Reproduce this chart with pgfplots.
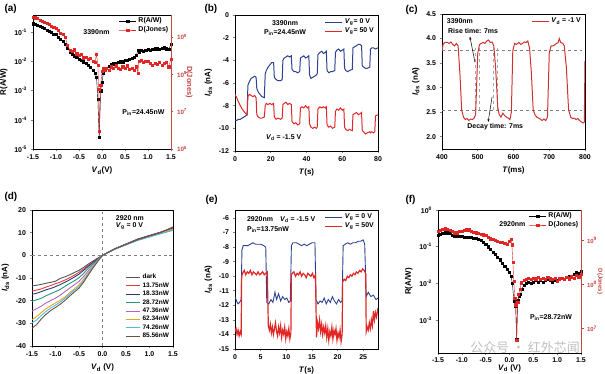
\documentclass[border=0pt]{standalone}
\usepackage{fontspec}
\setmainfont{Liberation Sans}
\newfontfamily\cjk{Noto Sans CJK SC}
\usepackage{pgfplots}
\pgfplotsset{compat=1.18}
\usetikzlibrary{arrows.meta}
\definecolor{myred}{RGB}{225,38,38}
\definecolor{myblue}{RGB}{45,65,145}
\definecolor{cred}{RGB}{205,50,50}
\definecolor{axred}{RGB}{200,70,70}
\definecolor{cdark}{RGB}{85,85,85}
\definecolor{cr}{RGB}{225,60,60}
\definecolor{cnavy}{RGB}{40,60,120}
\definecolor{cteal}{RGB}{40,150,120}
\definecolor{cpurp}{RGB}{180,100,200}
\definecolor{corng}{RGB}{230,165,30}
\definecolor{ccyan}{RGB}{70,190,230}
\definecolor{cbrown}{RGB}{110,80,70}
\tikzset{txt/.style={font=\bfseries\fontsize{7}{8}\selectfont}}
\pgfplotsset{
  panel/.style={
    scale only axis, anchor=south west,
    tick align=outside, major tick length=2.5pt,
    axis line style={line width=0.7pt},
    tick style={line width=0.6pt},
    tick label style={font=\bfseries\fontsize{7}{8}\selectfont},
    label style={font=\bfseries\fontsize{8}{9}\selectfont},
    /pgf/number format/assume math mode=true,
    legend style={draw=none, fill=none, font=\bfseries\fontsize{7}{8}\selectfont, inner sep=0.5pt, row sep=-1.5pt},
    legend cell align=left,
  },
  Rmark/.style={black, mark=square*, mark size=1.1pt, line width=0.4pt},
  Dmark/.style={myred, mark=square*, mark size=1.1pt, line width=0.4pt},
}
\begin{document}
\begin{tikzpicture}[x=1bp,y=1bp]
\useasboundingbox (0,0) rectangle (605,373);
\node[anchor=north west, font=\bfseries\fontsize{10}{12}\selectfont] at (1,372) {(a)};
\node[anchor=north west, font=\bfseries\fontsize{10}{12}\selectfont] at (201,372) {(b)};
\node[anchor=north west, font=\bfseries\fontsize{10}{12}\selectfont] at (402,371) {(c)};
\node[anchor=north west, font=\bfseries\fontsize{10}{12}\selectfont] at (1,184) {(d)};
\node[anchor=north west, font=\bfseries\fontsize{10}{12}\selectfont] at (202,181) {(e)};
\node[anchor=north west, font=\bfseries\fontsize{10}{12}\selectfont] at (402,181) {(f)};

% ---------------- (a) ----------------
\begin{axis}[panel, at={(33bp,224bp)}, width=138bp, height=134bp,
  xmin=-1.5, xmax=1.5, xtick={-1.5,-1,-0.5,0,0.5,1,1.5},
  xticklabels={-1.5,-1.0,-0.5,0.0,0.5,1.0,1.5},
  ymode=log, ymin=1e-5, ymax=0.4, ytick={1e-5,1e-4,1e-3,1e-2,1e-1},
  yticklabels={10\textsuperscript{-5},10\textsuperscript{-4},10\textsuperscript{-3},10\textsuperscript{-2},10\textsuperscript{-1}},
  yminorticks=false, xtick pos=left, ytick pos=left,
  xlabel={\textit{V}\textsubscript{d}(V)}, ylabel={R(A/W)},
  legend style={at={(1,1)}, anchor=north east}]
\addlegendimage{Rmark}\addlegendentry{R(A/W)}
\addlegendimage{Dmark}\addlegendentry{D(Jones)}
\addplot[Rmark, forget plot] coordinates {
(-1.50,0.20)(-1.45,0.19)(-1.40,0.18)(-1.35,0.17)(-1.30,0.15)(-1.25,0.14)(-1.20,0.12)(-1.15,0.11)(-1.10,0.10)(-1.05,0.09)(-1.00,0.085)(-0.95,0.07)(-0.90,0.06)(-0.85,0.05)(-0.80,0.04)(-0.75,0.03)(-0.70,0.022)(-0.65,0.018)(-0.60,0.016)(-0.55,0.014)(-0.50,0.012)(-0.45,0.011)(-0.40,0.010)(-0.35,0.009)(-0.30,0.0075)(-0.25,0.0065)(-0.20,0.005)(-0.15,0.004)(-0.12,0.003)(-0.09,0.0005)(-0.06,0.000025)(-0.03,0.001)(0.00,0.002)(0.03,0.004)(0.06,0.005)(0.10,0.006)(0.15,0.007)(0.20,0.008)(0.25,0.0085)(0.30,0.009)(0.35,0.0095)(0.40,0.010)(0.45,0.010)(0.50,0.011)(0.55,0.011)(0.60,0.012)(0.65,0.013)(0.70,0.014)(0.75,0.017)(0.78,0.025)(0.80,0.022)(0.85,0.024)(0.90,0.023)(0.95,0.025)(1.00,0.026)(1.05,0.025)(1.10,0.027)(1.15,0.028)(1.20,0.028)(1.25,0.027)(1.30,0.029)(1.35,0.030)(1.40,0.028)(1.45,0.026)(1.50,0.040)};
\node[txt] at (rel axis cs:0.46,0.87) {3390nm};
\node[txt] at (rel axis cs:0.8,0.27) {P\textsubscript{in}=24.45nW};
\end{axis}
\begin{axis}[panel, at={(33bp,224bp)}, width=138bp, height=134bp, clip=false,
  xmin=-1.5, xmax=1.5, axis x line=none, axis y line*=right,
  ymode=log, ymin=1e6, ymax=3.9e9, ytick={1e6,1e7,1e8,1e9},
  yticklabels={10\textsuperscript{6},10\textsuperscript{7},10\textsuperscript{8},10\textsuperscript{9}},
  yminorticks=false,
  yticklabel style={axred, font=\bfseries\fontsize{6.3}{7}\selectfont},
  y axis line style={axred}, ytick style={axred}]
\addplot[Dmark] coordinates {
(-1.50,3.4e9)(-1.45,3.3e9)(-1.40,3.2e9)(-1.35,2.9e9)(-1.30,2.6e9)(-1.25,2.5e9)(-1.20,2.4e9)(-1.15,2.2e9)(-1.10,2.0e9)(-1.05,1.8e9)(-1.00,1.7e9)(-0.95,1.5e9)(-0.90,1.3e9)(-0.85,1.2e9)(-0.80,1.0e9)(-0.75,6e8)(-0.70,4.5e8)(-0.65,4.2e8)(-0.60,4.6e8)(-0.55,3.6e8)(-0.50,3.2e8)(-0.45,3.4e8)(-0.40,2.8e8)(-0.35,2.9e8)(-0.30,2.5e8)(-0.25,2.7e8)(-0.20,2.3e8)(-0.15,2.1e8)(-0.12,3.5e8)(-0.09,1.8e8)(-0.07,4e7)(-0.06,3e6)(-0.03,5e7)(0.00,1.2e8)(0.03,1.5e8)(0.06,1.3e8)(0.10,1.5e8)(0.15,1.3e8)(0.20,1.6e8)(0.25,1.5e8)(0.30,1.7e8)(0.35,1.5e8)(0.40,1.4e8)(0.45,1.6e8)(0.50,1.5e8)(0.55,1.7e8)(0.60,1.4e8)(0.65,1.5e8)(0.70,1.3e8)(0.75,1.6e8)(0.78,1.1e8)(0.80,2.2e8)(0.85,2.4e8)(0.90,2.1e8)(0.95,2.3e8)(1.00,2.2e8)(1.05,2.0e8)(1.10,1.8e8)(1.15,2.0e8)(1.20,1.9e8)(1.25,2.1e8)(1.30,1.8e8)(1.35,2.0e8)(1.40,2.1e8)(1.45,1.6e8)(1.50,2.6e8)};
\node[rotate=-90, axred, font=\bfseries\fontsize{7.5}{8}\selectfont] at ([xshift=18bp]rel axis cs:1,0.5) {D(Jones)};
\end{axis}

% ---------------- (b) ----------------
\begin{axis}[panel, at={(235bp,222bp)}, width=143bp, height=136bp,
  xmin=0, xmax=80, xtick={0,20,40,60,80}, ymin=-12, ymax=0, ytick={-12,-10,-8,-6,-4,-2,0},
  xtick pos=left, ytick pos=left,
  xlabel={\textit{T}(s)}, ylabel={\textit{I}\textsubscript{ds} (nA)},
  legend style={at={(0.99,0.99)}, anchor=north east}]
\addplot[myblue, line width=1pt] coordinates {
(0,-9.3)(1,-9.3)(2,-9.2)(3,-9.2)(4,-9.1)(5,-9.0)(6,-8.9)(6.8,-8.8)(7.2,-6.2)(8,-5.9)(9,-5.6)(10,-5.5)(11,-5.4)(11.8,-5.5)(12.2,-6.5)(13,-6.8)(14,-7.0)(15,-7.2)(16.4,-7.3)(16.9,-5.2)(17.5,-4.9)(18.5,-4.6)(19.5,-4.4)(20.5,-4.2)(21.6,-4.2)(22.0,-5.5)(23,-5.7)(24,-5.8)(25.5,-5.8)(26.4,-5.7)(26.8,-4.0)(27.5,-3.8)(28.5,-3.7)(29.5,-3.6)(30.5,-3.7)(31.5,-3.6)(31.9,-4.8)(33,-5.0)(34,-5.0)(35,-5.1)(36.2,-5.0)(36.6,-3.8)(37.5,-3.7)(38.5,-3.6)(39.5,-3.8)(40.5,-3.7)(41.3,-3.6)(41.7,-5.3)(42.5,-5.6)(43.5,-5.5)(44.5,-5.4)(45.5,-5.3)(46.0,-5.2)(46.4,-3.5)(47.5,-3.3)(48.5,-3.2)(49.5,-3.4)(50.5,-3.3)(51.1,-3.2)(51.5,-4.9)(52.5,-5.1)(53.5,-5.0)(54.5,-5.0)(55.8,-4.9)(56.2,-3.3)(57,-3.1)(58,-3.0)(59,-3.2)(60,-3.1)(60.9,-3.0)(61.3,-4.7)(62,-4.9)(63,-5.0)(64,-4.9)(65.6,-4.8)(66,-2.9)(67,-2.8)(68,-2.7)(69,-2.6)(70,-2.6)(70.8,-2.7)(71.2,-4.5)(72,-4.6)(73,-4.7)(74,-4.7)(75.4,-4.6)(75.8,-3.0)(76.5,-2.9)(77.5,-2.9)(78.5,-3.0)(80,-2.9)};
\addlegendentry{\textit{V}\textsubscript{g}= 0 V}
\addplot[myred, line width=1pt] coordinates {
(0,-7.0)(1,-7.3)(2,-7.7)(3,-8.0)(4,-8.3)(5,-8.5)(6,-8.7)(6.8,-8.8)(7.2,-7.2)(8,-7.0)(9,-7.1)(10,-7.2)(11,-7.1)(11.8,-7.3)(12.2,-8.8)(13,-9.0)(14,-9.1)(15,-9.1)(16.4,-9.0)(16.9,-8.0)(17.5,-7.8)(18.5,-7.9)(19.5,-7.8)(20.5,-7.9)(21.6,-7.8)(22.0,-9.0)(23,-9.2)(24,-9.1)(25.5,-9.2)(26.4,-9.1)(26.8,-7.9)(27.5,-7.8)(28.5,-7.7)(29.5,-7.9)(30.5,-7.8)(31.5,-7.9)(31.9,-9.4)(33,-9.6)(34,-9.5)(35,-9.7)(36.2,-9.6)(36.6,-8.2)(37.5,-8.1)(38.5,-8.2)(39.5,-8.0)(40.5,-8.2)(41.3,-8.1)(41.7,-9.6)(42.5,-9.9)(43.5,-10.0)(44.5,-9.9)(45.5,-10.0)(46.0,-9.9)(46.4,-8.3)(47.5,-8.1)(48.5,-8.2)(49.5,-8.1)(50.5,-8.2)(51.1,-8.1)(51.5,-9.7)(52.5,-9.9)(53.5,-9.8)(54.5,-10.0)(55.8,-9.9)(56.2,-8.5)(57,-8.3)(58,-8.4)(59,-8.2)(60,-8.4)(60.9,-8.3)(61.3,-9.9)(62,-10.1)(63,-10.2)(64,-10.1)(65.6,-10.2)(66,-8.8)(67,-8.7)(68,-8.6)(69,-8.8)(70,-8.7)(70.8,-8.6)(71.2,-10.2)(72,-10.3)(73,-10.5)(74,-10.4)(75.4,-10.3)(75.8,-10.4)(76.5,-10.3)(77.5,-10.4)(78.2,-10.3)(78.6,-8.9)(80,-8.8)};
\addlegendentry{\textit{V}\textsubscript{g}= 50 V}
\node[txt] at (rel axis cs:0.35,0.94) {3390nm};
\node[txt] at (rel axis cs:0.35,0.87) {P\textsubscript{in}=24.45nW};
\node[txt] at (rel axis cs:0.34,0.10) {\textit{V}\textsubscript{d} = -1.5 V};
\end{axis}

% ---------------- (c) ----------------
\begin{axis}[panel, at={(442bp,224bp)}, width=143bp, height=135bp,
  xmin=400, xmax=800, xtick={400,500,600,700,800}, ymin=1.75, ymax=4.5,
  ytick={2,2.5,3,3.5,4,4.5}, yticklabels={2.0,2.5,3.0,3.5,4.0,4.5},
  xtick pos=left, ytick pos=left,
  xlabel={\textit{T}(ms)}, ylabel={\textit{I}\textsubscript{ds} (nA)},
  legend style={at={(0.99,0.99)}, anchor=north east}]
\draw[gray, dashed, line width=0.6pt] (axis cs:400,3.77) -- (axis cs:800,3.77);
\draw[gray, dashed, line width=0.6pt] (axis cs:400,2.54) -- (axis cs:800,2.54);
\draw[gray!70, dashed, line width=0.5pt] (axis cs:493,2.54) -- (axis cs:493,3.8);
\draw[gray!70, dashed, line width=0.5pt] (axis cs:505,2.54) -- (axis cs:505,3.8);
\draw[gray!70, dashed, line width=0.5pt] (axis cs:543,2.54) -- (axis cs:543,3.8);
\draw[gray!70, dashed, line width=0.5pt] (axis cs:555,2.54) -- (axis cs:555,3.8);
\addplot[cred, line width=1pt] coordinates {
(400,3.75)(403,3.88)(408,3.92)(415,3.92)(420,3.90)(425,3.93)(430,3.88)(435,3.85)(440,3.90)(445,3.85)(450,3.30)(455,2.55)(460,2.40)(465,2.35)(470,2.37)(475,2.33)(480,2.36)(485,2.35)(490,2.38)(494,2.45)(500,3.70)(505,3.88)(510,3.90)(515,3.92)(520,3.90)(525,3.95)(530,3.97)(535,3.92)(540,3.93)(545,3.85)(550,3.40)(556,2.60)(560,2.45)(565,2.40)(570,2.48)(575,2.43)(580,2.40)(585,2.38)(590,2.35)(594,2.50)(598,3.75)(603,3.90)(608,3.88)(615,3.92)(620,3.88)(625,3.90)(630,3.93)(635,3.92)(640,3.95)(645,3.80)(650,3.30)(655,2.55)(660,2.45)(665,2.40)(670,2.38)(675,2.36)(680,2.33)(685,2.36)(690,2.33)(695,2.40)(700,3.70)(705,3.85)(710,3.85)(715,3.87)(720,3.90)(725,3.92)(728,4.00)(732,3.92)(738,3.90)(742,3.85)(748,3.40)(754,2.55)(760,2.40)(765,2.37)(770,2.38)(775,2.35)(780,2.37)(785,2.33)(790,2.30)(795,2.28)(798,2.30)(800,3.55)};
\addlegendentry{\textit{V}\textsubscript{d} = -1 V}
\node[txt, anchor=north west] at (rel axis cs:0.01,0.995) {3390nm};
\node[txt] at (axis cs:487,4.15) {Rise time: 7ms};
\node[txt] at (axis cs:549,2.2) {Decay time: 7ms};
\draw[-{Stealth[length=3pt]}, line width=0.5pt] (axis cs:492,3.52) -- (axis cs:478,4.04);
\draw[-{Stealth[length=3pt]}, line width=0.5pt] (axis cs:540,2.81) -- (axis cs:529,2.3);
\end{axis}

% ---------------- (d) ----------------
\begin{axis}[panel, at={(32bp,27bp)}, width=141bp, height=136bp,
  xmin=-1.5, xmax=1.5, xtick={-1.5,-1,-0.5,0,0.5,1,1.5},
  xticklabels={-1.5,-1.0,-0.5,0.0,0.5,1.0,1.5},
  ymin=-40, ymax=20, ytick={-40,-30,-20,-10,0,10,20},
  xtick pos=left, ytick pos=left,
  xlabel={\textit{V}\textsubscript{d} (V)}, ylabel={\textit{I}\textsubscript{ds} (nA)},
  legend style={at={(0.99,0.03)}, anchor=south east, font=\bfseries\fontsize{6.5}{7}\selectfont, row sep=-1.6pt},
  legend image code/.code={\draw[#1, line width=1pt] (0cm,0cm) -- (0.5cm,0cm);},
  every axis plot/.append style={line width=0.9pt}]
\draw[gray, dashed, line width=0.6pt] (axis cs:-1.5,0) -- (axis cs:1.5,0);
\draw[gray, dashed, line width=0.6pt] (axis cs:0,-40) -- (axis cs:0,20);
\addplot[cdark] coordinates {(-1.5,-13.5)(-1.4,-13.2)(-1.3,-12.8)(-1.2,-12.3)(-1.1,-11.9)(-1.0,-11.4)(-0.9,-10.2)(-0.8,-9.5)(-0.7,-8.6)(-0.6,-7.6)(-0.5,-6.6)(-0.4,-5.3)(-0.3,-3.8)(-0.2,-2.5)(-0.1,-1.2)(0,0)(0.25,2.8)(0.5,5.0)(0.75,7.2)(1.0,8.8)(1.25,10.3)(1.5,12.0)};
\addlegendentry{dark}
\addplot[cr] coordinates {(-1.5,-15.8)(-1.4,-15.3)(-1.3,-14.8)(-1.2,-14.0)(-1.1,-13.3)(-1.0,-12.5)(-0.9,-11.8)(-0.8,-10.9)(-0.7,-9.9)(-0.6,-8.8)(-0.5,-7.5)(-0.4,-6.0)(-0.3,-4.4)(-0.2,-2.9)(-0.1,-1.4)(0,0)(0.25,2.8)(0.5,5.0)(0.75,7.1)(1.0,8.7)(1.25,10.3)(1.5,12.4)};
\addlegendentry{13.75nW}
\addplot[cnavy] coordinates {(-1.5,-17.2)(-1.4,-16.7)(-1.3,-16.0)(-1.2,-15.2)(-1.1,-14.6)(-1.0,-13.8)(-0.9,-12.9)(-0.8,-11.9)(-0.7,-10.8)(-0.6,-9.6)(-0.5,-8.3)(-0.4,-6.6)(-0.3,-4.8)(-0.2,-3.1)(-0.1,-1.5)(0,0)(0.25,2.7)(0.5,4.9)(0.75,7.0)(1.0,8.6)(1.25,10.2)(1.5,12.2)};
\addlegendentry{18.33nW}
\addplot[cteal] coordinates {(-1.5,-20.3)(-1.4,-19.6)(-1.3,-18.9)(-1.2,-17.8)(-1.1,-16.9)(-1.0,-16.0)(-0.9,-15.0)(-0.8,-13.7)(-0.7,-12.4)(-0.6,-11.2)(-0.5,-9.9)(-0.4,-7.9)(-0.3,-5.7)(-0.2,-3.7)(-0.1,-1.8)(0,0)(0.25,2.7)(0.5,4.8)(0.75,6.8)(1.0,8.3)(1.25,9.8)(1.5,11.3)};
\addlegendentry{28.72nW}
\addplot[cpurp] coordinates {(-1.5,-24.6)(-1.4,-23.5)(-1.3,-22.4)(-1.2,-21.0)(-1.1,-19.9)(-1.0,-18.9)(-0.9,-17.6)(-0.8,-16.0)(-0.7,-14.5)(-0.6,-13.0)(-0.5,-11.5)(-0.4,-9.3)(-0.3,-6.8)(-0.2,-4.4)(-0.1,-2.1)(0,0)(0.25,2.6)(0.5,4.8)(0.75,6.8)(1.0,8.4)(1.25,10.0)(1.5,11.6)};
\addlegendentry{47.36nW}
\addplot[corng] coordinates {(-1.5,-28.4)(-1.4,-27.0)(-1.3,-25.2)(-1.2,-23.5)(-1.1,-22.2)(-1.0,-21.0)(-0.9,-19.8)(-0.8,-18.4)(-0.7,-16.5)(-0.6,-14.8)(-0.5,-13.0)(-0.4,-10.5)(-0.3,-7.6)(-0.2,-4.9)(-0.1,-2.4)(0,0)(0.25,2.6)(0.5,4.7)(0.75,6.7)(1.0,8.3)(1.25,9.9)(1.5,11.5)};
\addlegendentry{62.34nW}
\addplot[ccyan] coordinates {(-1.5,-29.8)(-1.4,-28.5)(-1.3,-26.5)(-1.2,-24.7)(-1.1,-23.2)(-1.0,-22.0)(-0.9,-20.6)(-0.8,-19.0)(-0.7,-17.2)(-0.6,-15.4)(-0.5,-13.8)(-0.4,-11.2)(-0.3,-8.1)(-0.2,-5.2)(-0.1,-2.5)(0,0)(0.25,2.6)(0.5,4.6)(0.75,6.6)(1.0,8.1)(1.25,9.6)(1.5,11.0)};
\addlegendentry{74.26nW}
\addplot[cbrown] coordinates {(-1.5,-32.2)(-1.4,-30.5)(-1.3,-28.0)(-1.2,-26.0)(-1.1,-24.3)(-1.0,-23.0)(-0.9,-21.6)(-0.8,-19.9)(-0.7,-18.0)(-0.6,-16.2)(-0.5,-14.5)(-0.4,-11.8)(-0.3,-8.6)(-0.2,-5.5)(-0.1,-2.7)(0,0)(0.25,2.7)(0.5,4.8)(0.75,6.9)(1.0,8.5)(1.25,10.1)(1.5,12.5)};
\addlegendentry{85.56nW}
\node[txt, anchor=west] at (rel axis cs:0.57,0.94) {2920 nm};
\node[txt, anchor=west] at (rel axis cs:0.57,0.88) {\textit{V}\textsubscript{g} = 0 V};
\end{axis}

% ---------------- (e) ----------------
\begin{axis}[panel, at={(235bp,24bp)}, width=143bp, height=139bp,
  xmin=0, xmax=27.9, xtick={0,5,10,15,20,25}, ymin=-15, ymax=-5.45,
  ytick={-15,-14,-13,-12,-11,-10,-9,-8,-7,-6},
  xtick pos=left, ytick pos=left,
  xlabel={\textit{T}(s)}, ylabel={\textit{I}\textsubscript{ds} (nA)},
  legend style={at={(0.99,0.99)}, anchor=north east}]
\addplot[myblue, line width=0.9pt] coordinates {
(0,-11.4)(0.3,-11.7)(0.6,-11.9)(0.9,-11.8)(1.2,-11.6)(1.35,-8.2)(1.6,-7.9)(2.5,-7.9)(3.0,-7.8)(3.5,-7.7)(4.0,-7.8)(4.5,-7.8)(5.0,-7.8)(5.6,-7.9)(6.0,-8.0)(6.2,-11.8)(6.6,-11.9)(7.0,-11.6)(7.4,-11.8)(7.8,-11.1)(8.1,-11.6)(8.5,-11.2)(8.9,-11.7)(9.3,-11.4)(9.7,-11.6)(10.1,-11.5)(10.5,-11.8)(10.8,-11.7)(11.0,-7.9)(11.3,-7.7)(12,-7.7)(12.5,-7.8)(13.0,-7.9)(13.5,-7.8)(14,-7.9)(14.5,-7.8)(15,-7.7)(15.6,-7.7)(15.8,-11.6)(16.2,-11.9)(16.6,-11.7)(17.0,-11.8)(17.4,-11.5)(17.8,-11.9)(18.2,-11.6)(18.6,-11.8)(19.0,-11.4)(19.4,-11.7)(19.8,-11.9)(20.2,-11.6)(20.6,-11.8)(20.9,-11.7)(21.1,-7.9)(21.5,-7.8)(22,-7.7)(22.5,-7.8)(23,-7.7)(23.5,-7.7)(24,-7.6)(24.5,-7.6)(25.0,-7.5)(25.3,-7.8)(25.6,-11.4)(26.0,-11.1)(26.5,-11.4)(27.0,-11.3)(27.5,-11.6)(27.9,-11.5)};
\addlegendentry{\textit{V}\textsubscript{g} = 0 V}
\addplot[myred, line width=1.2pt] coordinates {
(0,-13.8)(0.2,-13.6)(0.4,-14.0)(0.6,-13.7)(0.8,-14.1)(1.0,-13.8)(1.2,-14.0)(1.3,-10.0)(1.5,-9.8)(1.8,-9.6)(2.1,-9.9)(2.4,-9.7)(2.7,-9.8)(3.0,-9.6)(3.3,-9.9)(3.6,-9.7)(3.9,-9.8)(4.2,-9.9)(4.5,-9.7)(4.8,-9.9)(5.1,-9.8)(5.4,-9.7)(5.7,-9.9)(6.0,-9.8)(6.3,-9.7)(6.5,-13.4)(6.7,-13.7)(6.9,-13.3)(7.1,-13.9)(7.3,-13.5)(7.5,-14.0)(7.7,-13.6)(7.9,-13.2)(8.1,-13.8)(8.3,-14.1)(8.5,-13.5)(8.7,-13.9)(8.9,-13.4)(9.1,-14.2)(9.3,-13.7)(9.5,-14.0)(9.7,-13.5)(9.9,-14.3)(10.1,-13.8)(10.3,-14.1)(10.5,-13.6)(10.7,-14.3)(10.9,-13.9)(11.0,-9.9)(11.2,-9.8)(11.5,-9.7)(11.8,-10.0)(12.1,-9.8)(12.4,-9.9)(12.7,-9.7)(13.0,-10.0)(13.3,-9.8)(13.6,-9.9)(13.9,-10.1)(14.2,-9.8)(14.5,-9.9)(14.8,-10.0)(15.1,-9.8)(15.4,-10.1)(15.7,-9.9)(15.9,-14.2)(16.1,-13.2)(16.3,-13.6)(16.5,-13.0)(16.7,-13.8)(16.9,-13.3)(17.1,-14.0)(17.3,-13.5)(17.5,-13.9)(17.7,-13.4)(17.9,-14.2)(18.1,-13.6)(18.3,-14.4)(18.5,-13.8)(18.7,-14.1)(18.9,-13.5)(19.1,-14.3)(19.3,-13.7)(19.5,-14.0)(19.7,-13.6)(19.9,-14.4)(20.1,-13.9)(20.3,-14.2)(20.5,-13.7)(20.7,-14.5)(20.9,-14.0)(21.0,-10.4)(21.3,-10.2)(21.6,-10.3)(21.9,-10.0)(22.2,-10.1)(22.5,-9.9)(22.8,-10.0)(23.1,-9.8)(23.4,-9.9)(23.7,-9.7)(24.0,-9.8)(24.3,-9.6)(24.6,-9.7)(24.9,-9.5)(25.2,-9.6)(25.5,-9.8)(25.6,-13.8)(25.8,-13.5)(26.0,-13.7)(26.2,-13.2)(26.4,-13.6)(26.6,-13.0)(26.8,-13.4)(27.0,-12.4)(27.2,-13.0)(27.4,-12.5)(27.6,-12.8)(27.9,-12.2)};
\addlegendentry{\textit{V}\textsubscript{g} = 50V}
\node[txt, anchor=west] at (rel axis cs:0.06,0.93) {2920nm\quad\textit{V}\textsubscript{d} = -1.5 V};
\node[txt, anchor=west] at (rel axis cs:0.06,0.86) {P\textsubscript{in}=13.75nW};
\end{axis}

% ---------------- (f) ----------------
\begin{axis}[panel, at={(438bp,20bp)}, width=143bp, height=143bp,
  xmin=-1.5, xmax=1.5, xtick={-1.5,-1,-0.5,0,0.5,1,1.5},
  xticklabels={-1.5,-1.0,-0.5,0.0,0.5,1.0,1.5},
  ymode=log, ymin=1.26e-4, ymax=1, ytick={1e-3,1e-2,1e-1,1},
  yticklabels={10\textsuperscript{-3},10\textsuperscript{-2},10\textsuperscript{-1},10\textsuperscript{0}},
  yminorticks=false, xtick pos=left, ytick pos=left,
  xticklabel style={yshift=1.5pt},
  xlabel style={yshift=5pt},
  xlabel={\textit{V}\textsubscript{d} (V)}, ylabel={R(A/W)},
  legend style={at={(1,1)}, anchor=north east}]
\addlegendimage{Rmark}\addlegendentry{R(A/W)}
\addlegendimage{Dmark}\addlegendentry{D(Jones)}
\addplot[Rmark, forget plot] coordinates {
(-1.50,0.21)(-1.45,0.22)(-1.40,0.23)(-1.35,0.24)(-1.30,0.24)(-1.25,0.23)(-1.20,0.21)(-1.15,0.20)(-1.10,0.20)(-1.05,0.19)(-1.00,0.19)(-0.95,0.18)(-0.90,0.18)(-0.85,0.18)(-0.80,0.18)(-0.75,0.17)(-0.70,0.17)(-0.65,0.16)(-0.60,0.15)(-0.55,0.13)(-0.50,0.115)(-0.45,0.10)(-0.40,0.085)(-0.35,0.072)(-0.30,0.062)(-0.25,0.052)(-0.20,0.044)(-0.15,0.035)(-0.10,0.029)(-0.05,0.024)(0.00,0.020)(0.03,0.016)(0.06,0.010)(0.09,0.0035)(0.11,0.0032)(0.13,0.0024)(0.15,0.0003)(0.17,0.0035)(0.20,0.0045)(0.23,0.005)(0.26,0.007)(0.30,0.009)(0.35,0.010)(0.40,0.011)(0.45,0.010)(0.50,0.011)(0.55,0.012)(0.60,0.011)(0.65,0.012)(0.70,0.011)(0.75,0.012)(0.80,0.013)(0.85,0.012)(0.90,0.011)(0.95,0.012)(1.00,0.012)(1.05,0.013)(1.10,0.014)(1.15,0.013)(1.20,0.015)(1.25,0.016)(1.30,0.015)(1.35,0.018)(1.40,0.020)(1.45,0.019)(1.50,0.021)};
\node[txt] at (rel axis cs:0.52,0.90) {2920nm};
\node[txt] at (rel axis cs:0.79,0.25) {P\textsubscript{in}=28.72nW};
\end{axis}
\begin{axis}[panel, at={(438bp,20bp)}, width=143bp, height=143bp, clip=false,
  xmin=-1.5, xmax=1.5, axis x line=none, axis y line*=right,
  ymode=log, ymin=2.8e6, ymax=4.9e9, ytick={1e7,1e8,1e9},
  yticklabels={10\textsuperscript{7},10\textsuperscript{8},10\textsuperscript{9}},
  yminorticks=false,
  yticklabel style={axred, font=\bfseries\fontsize{6}{7}\selectfont},
  y axis line style={axred}, ytick style={axred}]
\addplot[Dmark] coordinates {
(-1.50,1.6e9)(-1.45,1.7e9)(-1.40,1.8e9)(-1.35,1.85e9)(-1.30,1.8e9)(-1.25,1.7e9)(-1.20,1.6e9)(-1.15,1.5e9)(-1.10,1.5e9)(-1.05,1.6e9)(-1.00,1.65e9)(-0.95,1.7e9)(-0.90,1.75e9)(-0.85,1.75e9)(-0.80,1.65e9)(-0.75,1.55e9)(-0.70,1.5e9)(-0.65,1.45e9)(-0.60,1.4e9)(-0.55,1.35e9)(-0.50,1.3e9)(-0.45,1.2e9)(-0.40,1.1e9)(-0.35,1.05e9)(-0.30,1.0e9)(-0.25,9.5e8)(-0.20,9.2e8)(-0.15,9e8)(-0.10,8.5e8)(-0.05,8.2e8)(0.00,9.5e8)(0.03,1.05e9)(0.05,8e8)(0.07,3.2e8)(0.09,1.2e8)(0.11,5e7)(0.13,3.5e7)(0.15,5.5e6)(0.17,4e7)(0.19,6e7)(0.22,8e7)(0.25,1.1e8)(0.30,1.25e8)(0.35,1.3e8)(0.40,1.4e8)(0.45,1.3e8)(0.50,1.4e8)(0.55,1.35e8)(0.60,1.45e8)(0.65,1.3e8)(0.70,1.4e8)(0.75,1.3e8)(0.80,1.45e8)(0.85,1.35e8)(0.90,1.3e8)(0.95,1.4e8)(1.00,1.2e8)(1.05,1.35e8)(1.10,1.4e8)(1.15,1.3e8)(1.20,1.45e8)(1.25,1.35e8)(1.30,1.5e8)(1.35,1.4e8)(1.40,1.6e8)(1.45,1.5e8)(1.50,1.7e8)};
\node[rotate=-90, axred, font=\bfseries\fontsize{6}{7}\selectfont] at ([xshift=19bp]rel axis cs:1,0.5) {D(Jones)};
\end{axis}

\node[gray, opacity=0.5, font=\cjk\fontsize{13}{14}\selectfont] at (525,25) {公众号 · 红外芯闻};
\end{tikzpicture}
\end{document}
